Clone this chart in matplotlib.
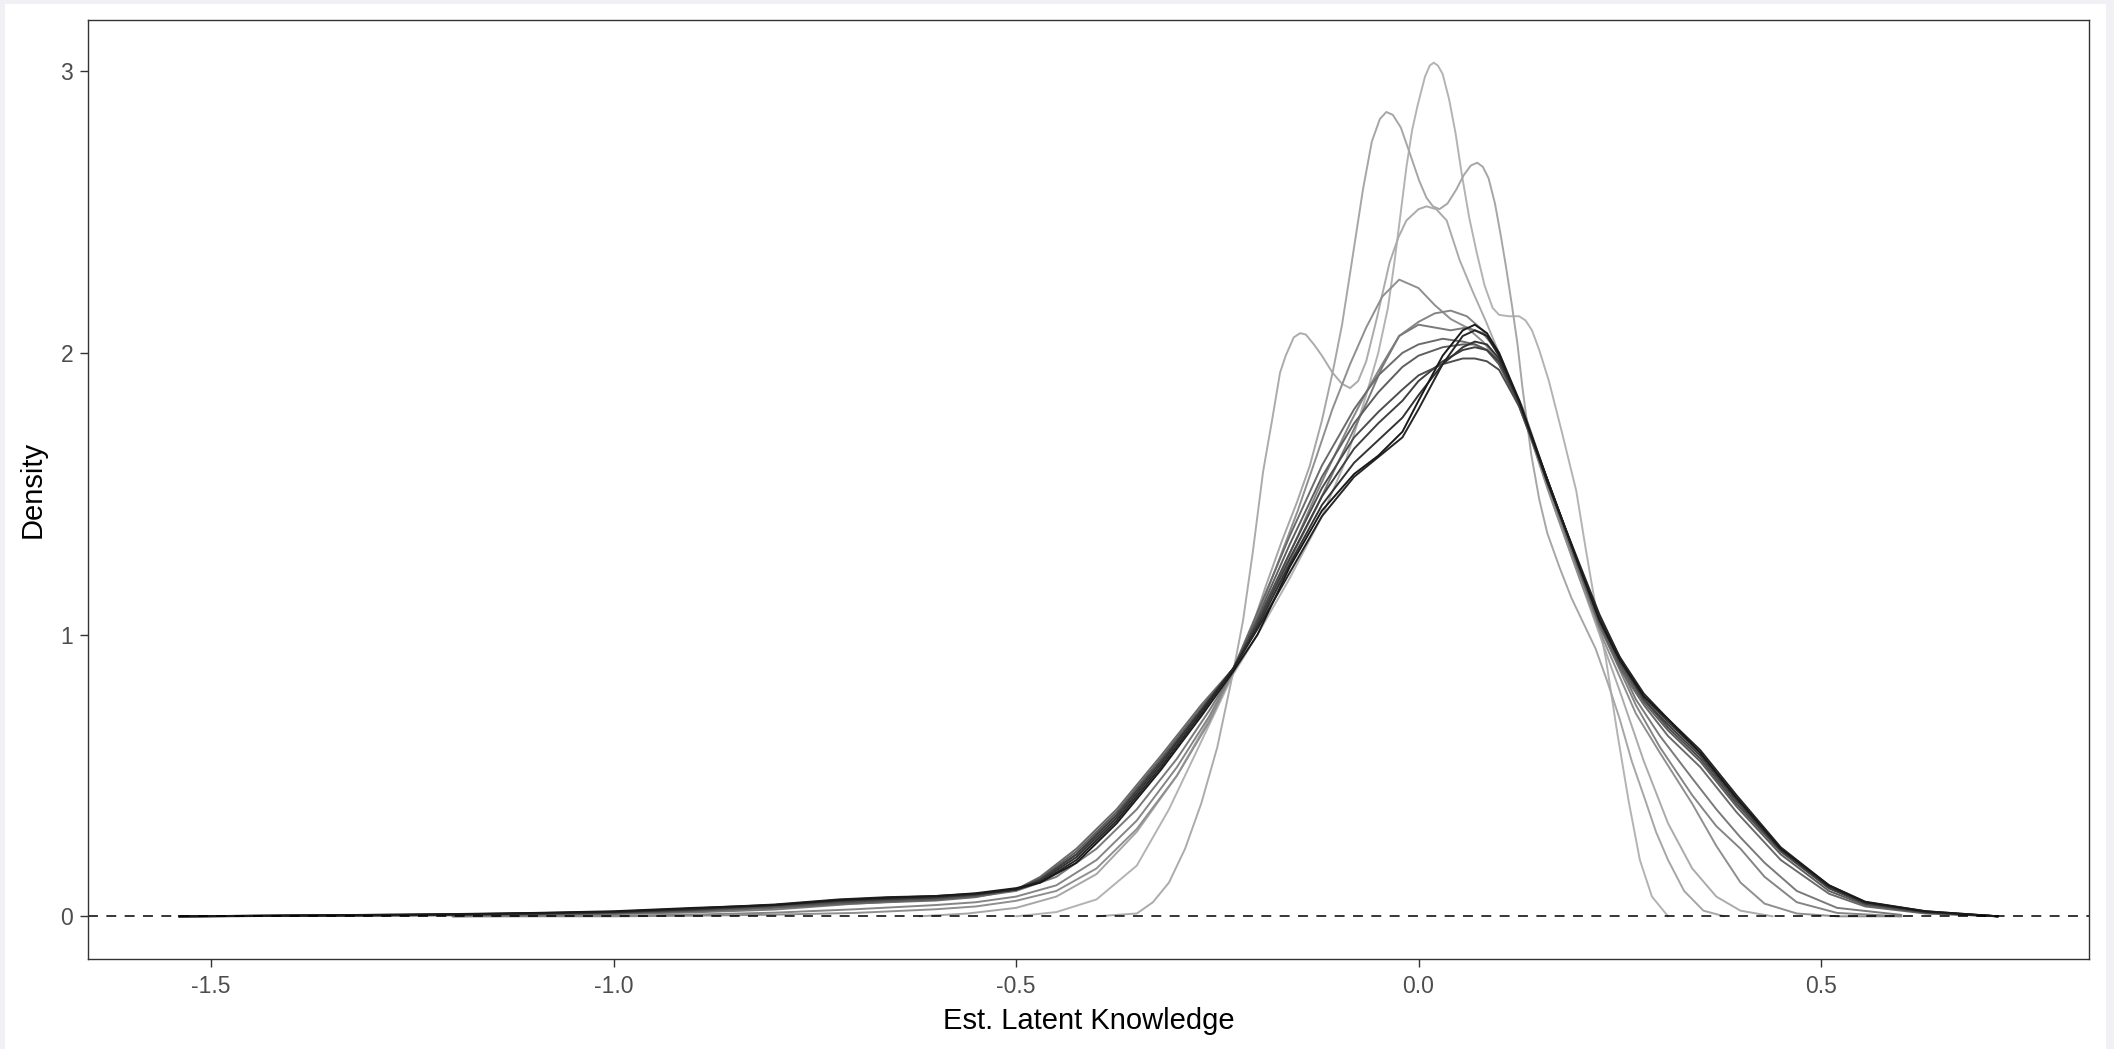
import numpy as np
import matplotlib.pyplot as plt
from matplotlib.patches import Rectangle

plt.rcParams['font.family'] = ['Liberation Sans', 'DejaVu Sans']

# density estimates, one curve per run (x = latent knowledge, y = density)
# broad runs share one x grid
dark_x = [-1.54, -1.35, -1.2, -1.1, -1.0, -0.9, -0.8, -0.72, -0.66, -0.6, -0.55,
          -0.5, -0.47, -0.425, -0.375, -0.32, -0.27, -0.23, -0.2, -0.16, -0.12,
          -0.08, -0.05, -0.02, 0.0, 0.03, 0.055, 0.07, 0.085, 0.1, 0.125, 0.16,
          0.2, 0.225, 0.25, 0.28, 0.31, 0.35, 0.395, 0.45, 0.51, 0.555, 0.63, 0.72]

k1_y = [0, 0.004, 0.008, 0.012, 0.018, 0.03, 0.04, 0.058, 0.066, 0.072, 0.082, 0.1,
        0.12, 0.19, 0.33, 0.52, 0.71, 0.87, 1.0, 1.24, 1.44, 1.57, 1.635, 1.72, 1.83,
        1.99, 2.08, 2.10, 2.07, 2.0, 1.83, 1.55, 1.24, 1.05, 0.91, 0.78, 0.70, 0.58,
        0.42, 0.24, 0.11, 0.05, 0.018, 0.0]
k2_y = [0, 0.004, 0.007, 0.011, 0.016, 0.028, 0.042, 0.06, 0.068, 0.072, 0.08, 0.095,
        0.12, 0.2, 0.34, 0.53, 0.72, 0.88, 1.02, 1.22, 1.42, 1.56, 1.63, 1.70, 1.80,
        1.96, 2.06, 2.08, 2.06, 1.99, 1.83, 1.54, 1.25, 1.07, 0.92, 0.79, 0.70, 0.59,
        0.43, 0.245, 0.11, 0.052, 0.018, 0.0]
k3_y = [0, 0.003, 0.006, 0.01, 0.015, 0.025, 0.04, 0.055, 0.062, 0.068, 0.078, 0.095,
        0.125, 0.21, 0.35, 0.54, 0.73, 0.88, 1.03, 1.25, 1.46, 1.61, 1.69, 1.77, 1.85,
        1.96, 2.02, 2.04, 2.03, 1.98, 1.83, 1.55, 1.24, 1.06, 0.92, 0.78, 0.69, 0.58,
        0.42, 0.24, 0.105, 0.05, 0.016, 0.0]
k4_y = [0, 0.003, 0.006, 0.01, 0.015, 0.025, 0.04, 0.055, 0.062, 0.068, 0.078, 0.095,
        0.13, 0.22, 0.36, 0.55, 0.73, 0.88, 1.04, 1.27, 1.49, 1.66, 1.75, 1.83, 1.90,
        1.97, 2.01, 2.02, 2.01, 1.97, 1.82, 1.55, 1.24, 1.05, 0.91, 0.77, 0.68, 0.57,
        0.41, 0.235, 0.1, 0.045, 0.015, 0.0]
k5_y = [0, 0.002, 0.005, 0.009, 0.013, 0.022, 0.036, 0.05, 0.058, 0.064, 0.075, 0.095,
        0.13, 0.22, 0.36, 0.55, 0.73, 0.88, 1.05, 1.29, 1.52, 1.70, 1.79, 1.87, 1.92,
        1.96, 1.98, 1.98, 1.97, 1.94, 1.81, 1.55, 1.24, 1.05, 0.9, 0.77, 0.67, 0.56,
        0.40, 0.23, 0.1, 0.045, 0.014, 0.0]
k6_y = [0, 0.002, 0.004, 0.007, 0.011, 0.02, 0.032, 0.046, 0.054, 0.06, 0.072, 0.095,
        0.135, 0.23, 0.37, 0.56, 0.74, 0.88, 1.06, 1.32, 1.56, 1.75, 1.86, 1.95, 1.99,
        2.02, 2.03, 2.03, 2.01, 1.96, 1.82, 1.55, 1.23, 1.04, 0.89, 0.76, 0.66, 0.55,
        0.39, 0.22, 0.09, 0.04, 0.012, 0.0]
k7_y = [0, 0.002, 0.004, 0.006, 0.01, 0.018, 0.03, 0.043, 0.05, 0.056, 0.068, 0.095,
        0.14, 0.24, 0.38, 0.57, 0.75, 0.88, 1.08, 1.35, 1.60, 1.80, 1.92, 2.0, 2.03,
        2.05, 2.04, 2.03, 2.01, 1.96, 1.81, 1.54, 1.22, 1.03, 0.88, 0.75, 0.64, 0.53,
        0.37, 0.2, 0.08, 0.035, 0.01, 0.0]

mid_x = [-1.2, -1.0, -0.9, -0.8, -0.7, -0.6, -0.55, -0.5, -0.45, -0.4, -0.35, -0.3,
         -0.26, -0.23, -0.19, -0.15, -0.127, -0.107, -0.085, -0.065, -0.045, -0.024,
         0.0, 0.02, 0.04, 0.06, 0.08, 0.1, 0.13, 0.16, 0.2, 0.23, 0.27, 0.3, 0.34,
         0.37, 0.4, 0.43, 0.47, 0.52, 0.6]

m1_y = [0, 0.0, 0.002, 0.006, 0.012, 0.025, 0.035, 0.055, 0.09, 0.17, 0.31, 0.5, 0.69,
        0.87, 1.14, 1.44, 1.63, 1.80, 1.96, 2.09, 2.2, 2.26, 2.23, 2.17, 2.12, 2.09,
        2.04, 1.97, 1.78, 1.52, 1.2, 0.98, 0.72, 0.58, 0.4, 0.25, 0.12, 0.045, 0.01,
        0.0, 0.0]
m2_y = [0, 0.002, 0.006, 0.013, 0.025, 0.04, 0.05, 0.07, 0.11, 0.2, 0.34, 0.53, 0.71,
        0.87, 1.1, 1.35, 1.5, 1.62, 1.75, 1.86, 1.96, 2.06, 2.11, 2.14, 2.15, 2.13,
        2.08, 1.99, 1.79, 1.54, 1.22, 1.0, 0.75, 0.6, 0.43, 0.32, 0.24, 0.14, 0.05,
        0.012, 0.0]
m3_y = [0.0, 0.008, 0.014, 0.024, 0.045, 0.06, 0.07, 0.09, 0.14, 0.24, 0.38, 0.56, 0.73,
        0.87, 1.08, 1.32, 1.45, 1.57, 1.7, 1.82, 1.95, 2.06, 2.1, 2.09, 2.08, 2.09,
        2.07, 2.0, 1.8, 1.55, 1.23, 1.01, 0.77, 0.64, 0.49, 0.38, 0.28, 0.19, 0.09,
        0.03, 0.005]

# narrow runs
bi_x = [-0.62, -0.56, -0.50, -0.45, -0.40, -0.35, -0.30, -0.26, -0.23, -0.21, -0.19,
        -0.17, -0.151, -0.135, -0.12, -0.106, -0.095, -0.083, -0.069, -0.058, -0.048,
        -0.040, -0.032, -0.022, -0.011, 0.001, 0.01, 0.018, 0.026, 0.036, 0.047,
        0.056, 0.065, 0.073, 0.08, 0.087, 0.095, 0.102, 0.109, 0.116, 0.123, 0.129,
        0.14, 0.15, 0.16, 0.175, 0.19, 0.205, 0.22, 0.235, 0.25, 0.265, 0.282, 0.295,
        0.31, 0.33, 0.354, 0.38]
bi_y = [0.0, 0.01, 0.03, 0.07, 0.15, 0.3, 0.5, 0.7, 0.87, 1.0, 1.17, 1.33, 1.47, 1.6,
        1.76, 1.94, 2.1, 2.32, 2.58, 2.75, 2.83, 2.855, 2.845, 2.8, 2.71, 2.61, 2.55,
        2.52, 2.51, 2.53, 2.58, 2.63, 2.665, 2.675, 2.66, 2.62, 2.53, 2.42, 2.3, 2.17,
        2.03, 1.88, 1.64, 1.48, 1.36, 1.24, 1.13, 1.04, 0.95, 0.83, 0.7, 0.55, 0.41,
        0.3, 0.2, 0.09, 0.02, 0.0]

tall_x = [-0.50, -0.45, -0.40, -0.35, -0.31, -0.27, -0.23, -0.20, -0.16, -0.12, -0.09,
          -0.065, -0.05, -0.038, -0.030, -0.022, -0.015, -0.008, -0.001, 0.008, 0.014,
          0.019, 0.024, 0.03, 0.038, 0.046, 0.054, 0.063, 0.072, 0.082, 0.092, 0.10,
          0.112, 0.125, 0.133, 0.141, 0.15, 0.162, 0.178, 0.196, 0.208, 0.22, 0.233,
          0.247, 0.261, 0.275, 0.29, 0.31]
tall_y = [0.0, 0.015, 0.06, 0.18, 0.38, 0.62, 0.86, 1.0, 1.2, 1.42, 1.62, 1.85, 2.0,
          2.16, 2.32, 2.5, 2.66, 2.79, 2.88, 2.98, 3.02, 3.03, 3.02, 2.99, 2.9, 2.78,
          2.63, 2.48, 2.36, 2.24, 2.16, 2.135, 2.13, 2.13, 2.115, 2.08, 2.01, 1.90,
          1.72, 1.51, 1.30, 1.1, 0.91, 0.65, 0.41, 0.2, 0.07, 0.0]

side_x = [-0.40, -0.35, -0.33, -0.31, -0.29, -0.27, -0.25, -0.23, -0.218, -0.206,
          -0.193, -0.182, -0.172, -0.165, -0.155, -0.147, -0.14, -0.13, -0.12, -0.107,
          -0.095, -0.085, -0.075, -0.065, -0.052, -0.036, -0.025, -0.015, 0.0, 0.01,
          0.022, 0.035, 0.051, 0.067, 0.084, 0.11, 0.14, 0.17, 0.2, 0.22, 0.25, 0.28,
          0.31, 0.34, 0.37, 0.40, 0.44]
side_y = [0.0, 0.01, 0.05, 0.12, 0.24, 0.40, 0.6, 0.87, 1.05, 1.29, 1.58, 1.76, 1.93,
          1.99, 2.055, 2.07, 2.065, 2.03, 1.99, 1.93, 1.89, 1.875, 1.9, 1.97, 2.12,
          2.32, 2.41, 2.47, 2.51, 2.52, 2.51, 2.47, 2.33, 2.22, 2.11, 1.93, 1.7, 1.44,
          1.2, 1.04, 0.8, 0.55, 0.33, 0.17, 0.07, 0.02, 0.0]

# light (narrow) first so the dark ones end up on top
curves = [
    (tall_x, tall_y, '#b3b3b3'),
    (side_x, side_y, '#ababab'),
    (bi_x, bi_y, '#a6a6a6'),
    (mid_x, m1_y, '#8f8f8f'),
    (mid_x, m2_y, '#858585'),
    (mid_x, m3_y, '#7a7a7a'),
    (dark_x, k7_y, '#6b6b6b'),
    (dark_x, k6_y, '#5e5e5e'),
    (dark_x, k5_y, '#4d4d4d'),
    (dark_x, k4_y, '#404040'),
    (dark_x, k3_y, '#333333'),
    (dark_x, k2_y, '#262626'),
    (dark_x, k1_y, '#1a1a1a'),
]

fig = plt.figure(figsize=(21.14, 10.49), dpi=100, facecolor='#f0f0f5')
fig.patches.append(Rectangle((5 / 2114, 0), 2101 / 2114, 1045 / 1049,
                             transform=fig.transFigure, facecolor='white',
                             edgecolor='none', zorder=-1))
ax = fig.add_axes([88 / 2114, 90 / 1049, (2089 - 88) / 2114, (1029 - 90) / 1049])

for xs, ys, col in curves:
    ax.plot(xs, ys, color=col, lw=1.4, solid_joinstyle='round', solid_capstyle='round')

ax.axhline(0, color='black', lw=1.1, ls=(0, (6.5, 5.5)))

# ggplot-style 5% expansion
all_x = [v for xs, _, _ in curves for v in xs]
all_y = [v for _, ys, _ in curves for v in ys]
xr = max(all_x) - min(all_x)
yr = max(all_y) - min(all_y)
ax.set_xlim(min(all_x) - 0.05 * xr, max(all_x) + 0.05 * xr)
ax.set_ylim(min(all_y) - 0.05 * yr, max(all_y) + 0.05 * yr)

ax.set_xticks([-1.5, -1.0, -0.5, 0.0, 0.5])
ax.set_xticklabels(['-1.5', '-1.0', '-0.5', '0.0', '0.5'])
ax.set_yticks([0, 1, 2, 3])
ax.tick_params(direction='out', length=5.8, width=1.0, color='#333333',
               labelcolor='#4d4d4d', labelsize=16.5)
ax.tick_params(axis='x', pad=6)
ax.tick_params(axis='y', pad=5)
for sp in ax.spines.values():
    sp.set_color('#333333')
    sp.set_linewidth(1.0)

ax.set_xlabel('Est. Latent Knowledge', fontsize=21, color='black', labelpad=6)
ax.set_ylabel('Density', fontsize=21, color='black', labelpad=10)

fig.savefig('out.png', dpi=100, facecolor=fig.get_facecolor())
